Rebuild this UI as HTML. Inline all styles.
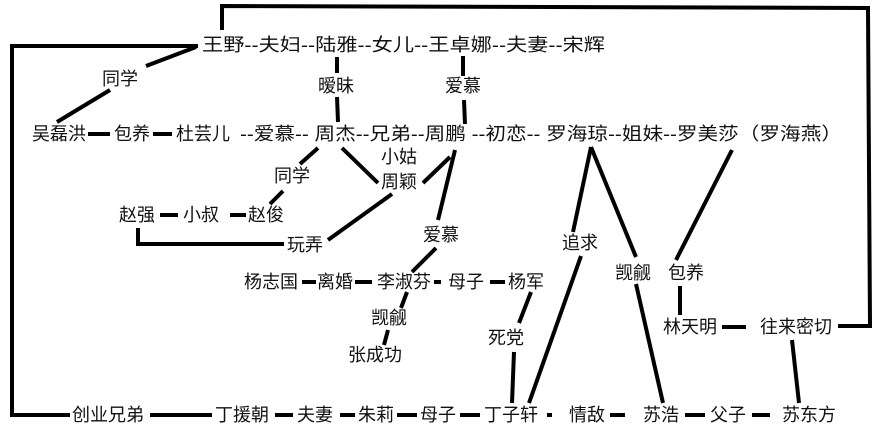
<!DOCTYPE html>
<html><head><meta charset="utf-8"><style>
html,body{margin:0;padding:0;background:#fff;}
svg{display:block;}
text{font-family:"Liberation Sans","Noto Sans CJK SC",sans-serif;font-size:18px;fill:#111;}
</style></head><body>
<svg width="895" height="444" viewBox="0 0 895 444" xmlns="http://www.w3.org/2000/svg">
<g stroke="#000" stroke-width="4" fill="none" stroke-linecap="butt">
<polyline points="222,30 222,6 868,8 870,326 838,326"/>
<polyline points="198,46 12,46 12,415 70,415"/>
<line x1="196" y1="47" x2="146" y2="66"/>
<line x1="110" y1="90" x2="57" y2="122"/>
<line x1="88" y1="134" x2="110" y2="134"/>
<line x1="153" y1="134" x2="172" y2="134"/>
<line x1="337" y1="57" x2="337" y2="73"/>
<line x1="337" y1="97" x2="338" y2="122"/>
<line x1="463" y1="56" x2="463" y2="76"/>
<line x1="464" y1="100" x2="465" y2="124"/>
<line x1="318" y1="148" x2="300" y2="164"/>
<line x1="283" y1="191" x2="270" y2="204"/>
<line x1="342" y1="148" x2="378" y2="183"/>
<line x1="450" y1="157" x2="423" y2="183"/>
<line x1="455" y1="150" x2="438" y2="220"/>
<line x1="392" y1="194" x2="328" y2="240"/>
<polyline points="138,228 138,244 284,244"/>
<line x1="160" y1="215" x2="178" y2="215"/>
<line x1="230" y1="215" x2="246" y2="215"/>
<line x1="436" y1="248" x2="412" y2="272"/>
<line x1="302" y1="282" x2="316" y2="282"/>
<line x1="355" y1="282" x2="372" y2="282"/>
<line x1="434" y1="282" x2="441" y2="282"/>
<line x1="490" y1="282" x2="505" y2="282"/>
<line x1="407" y1="292" x2="401" y2="308"/>
<line x1="388" y1="330" x2="384" y2="345"/>
<line x1="531" y1="292" x2="519" y2="323"/>
<line x1="514" y1="352" x2="512" y2="403"/>
<line x1="591" y1="147" x2="573" y2="232"/>
<line x1="581" y1="256" x2="529" y2="403"/>
<line x1="591" y1="147" x2="636" y2="257"/>
<line x1="636" y1="284" x2="663" y2="403"/>
<line x1="732" y1="150" x2="676" y2="260"/>
<line x1="680" y1="286" x2="680" y2="315"/>
<line x1="722" y1="327" x2="746" y2="327"/>
<line x1="792" y1="340" x2="799" y2="403"/>
<line x1="150" y1="415" x2="212" y2="415"/>
<line x1="275" y1="415" x2="293" y2="415"/>
<line x1="340" y1="415" x2="355" y2="415"/>
<line x1="397" y1="415" x2="417" y2="415"/>
<line x1="460" y1="415" x2="480" y2="415"/>
<line x1="547" y1="415" x2="552" y2="415"/>
<line x1="610" y1="415" x2="625" y2="415"/>
<line x1="685" y1="415" x2="705" y2="415"/>
<line x1="752" y1="415" x2="770" y2="415"/>
</g>
<text x="202" y="51" textLength="403" lengthAdjust="spacingAndGlyphs">王野--夫妇--陆雅--女儿--王卓娜--夫妻--宋辉</text>
<text x="240" y="140" textLength="602" lengthAdjust="spacingAndGlyphs">--爱慕-- 周杰--兄弟--周鹏 --初恋-- 罗海琼--姐妹--罗美莎（罗海燕）</text>
<g text-anchor="middle">
<text x="120" y="85">同学</text>
<text x="59" y="140">吴磊洪</text>
<text x="132" y="140">包养</text>
<text x="203" y="140">杜芸儿</text>
<text x="336" y="92">暧昧</text>
<text x="463" y="92">爱慕</text>
<text x="399" y="163">小姑</text>
<text x="399" y="188">周颖</text>
<text x="292" y="182">同学</text>
<text x="137" y="221">赵强</text>
<text x="201" y="221">小叔</text>
<text x="266" y="221">赵俊</text>
<text x="305" y="251">玩弄</text>
<text x="441" y="241">爱慕</text>
<text x="271" y="288">杨志国</text>
<text x="335" y="288">离婚</text>
<text x="404" y="288">李淑芬</text>
<text x="466" y="288">母子</text>
<text x="526" y="288">杨军</text>
<text x="389" y="324">觊觎</text>
<text x="375" y="361">张成功</text>
<text x="506" y="344">死党</text>
<text x="580" y="249">追求</text>
<text x="633" y="279">觊觎</text>
<text x="686" y="279">包养</text>
<text x="690" y="333">林天明</text>
<text x="796" y="333">往来密切</text>
<text x="108" y="421">创业兄弟</text>
<text x="242" y="421">丁援朝</text>
<text x="315" y="421">夫妻</text>
<text x="376" y="421">朱莉</text>
<text x="438" y="421">母子</text>
<text x="511" y="421">丁子轩</text>
<text x="587" y="421">情敌</text>
<text x="661" y="421">苏浩</text>
<text x="728" y="421">父子</text>
<text x="809" y="421">苏东方</text>
</g>
</svg>
</body></html>
